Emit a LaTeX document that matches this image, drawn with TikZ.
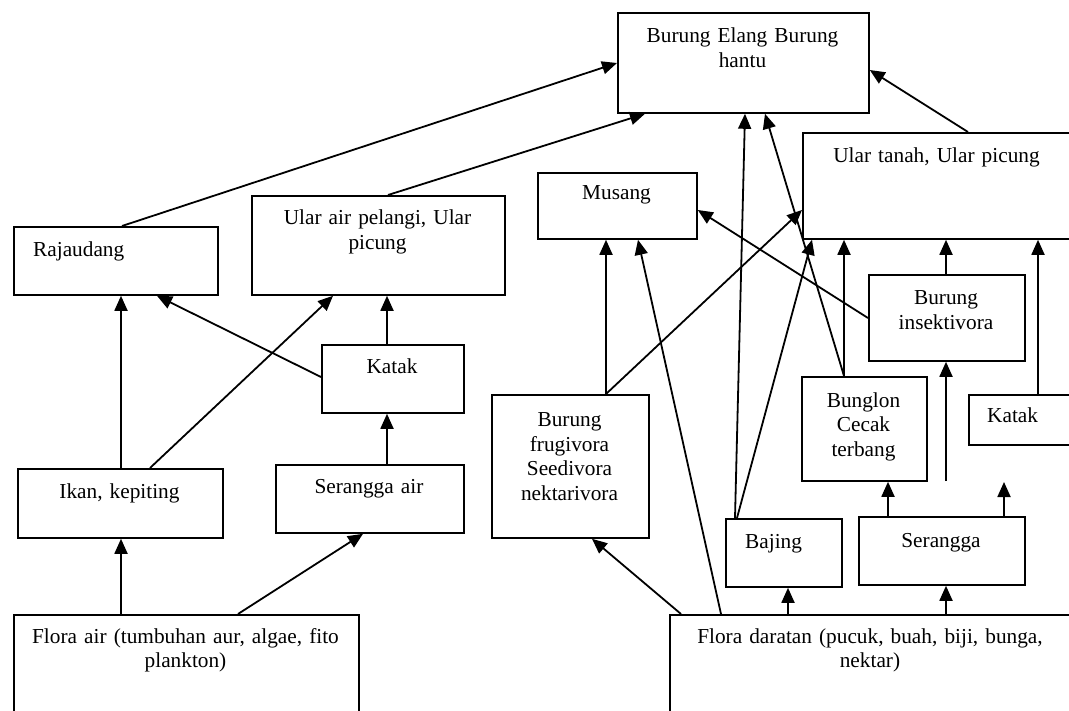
\documentclass[tikz,border=0pt]{standalone}
\usepackage{fontspec}
\setmainfont{Liberation Serif}
\usetikzlibrary{arrows.meta,calc}
\tikzset{
  box/.style={draw, line width=1.8pt, rectangle, inner sep=0pt, anchor=north west},
  lbl/.style={inner sep=0pt, align=center, text width=360pt, anchor=base},
  lblw/.style={inner sep=0pt, anchor=base west},
  conn/.style={line width=1.8pt, -{Triangle[length=15pt,width=13pt]}}
}
\begin{document}
\begin{tikzpicture}[x=1pt,y=-1pt,font=\fontsize{21.3}{24.5}\selectfont]
\useasboundingbox (0,0) rectangle (1069,711);
\clip (0,0) rectangle (1069,711);
% boxes
\node[box, minimum width=251pt, minimum height=100pt] (top) at (617,12) {};
\node[box, minimum width=280pt, minimum height=106pt] (ulart) at (802,132) {};
\node[box, minimum width=159pt, minimum height=66pt] (musang) at (537,172) {};
\node[box, minimum width=204pt, minimum height=68pt] (rajau) at (13,226) {};
\node[box, minimum width=253pt, minimum height=99pt] (ularair) at (251,195) {};
\node[box, minimum width=142pt, minimum height=68pt] (kataka) at (321,344) {};
\node[box, minimum width=205pt, minimum height=69pt] (ikan) at (17,468) {};
\node[box, minimum width=188pt, minimum height=68pt] (serair) at (275,464) {};
\node[box, minimum width=345pt, minimum height=110pt] (floraair) at (13,614) {};
\node[box, minimum width=157pt, minimum height=143pt] (frug) at (491,394) {};
\node[box, minimum width=156pt, minimum height=86pt] (insekt) at (868,274) {};
\node[box, minimum width=125pt, minimum height=104pt] (bunglon) at (801,376) {};
\node[box, minimum width=120pt, minimum height=50pt] (katakb) at (968,394) {};
\node[box, minimum width=166pt, minimum height=68pt] (serangga) at (858,516) {};
\node[box, minimum width=116pt, minimum height=68pt] (bajing) at (725,518) {};
\node[box, minimum width=420pt, minimum height=110pt] (florad) at (669,614) {};
% texts
\node[lbl] (ttop) at (742.5,43) {Burung Elang Burung\\hantu};
\node[lbl] (tulart) at (936.5,163) {Ular tanah, Ular picung};
\node[lbl] (tmusang) at (616.5,200) {Musang};
\node[lblw] (trajau) at (33,257) {Rajaudang};
\node[lbl] (tularair) at (377.5,225) {Ular air pelangi, Ular\\picung};
\node[lbl] (tkataka) at (392,374) {Katak};
\node[lbl] (tikan) at (119.5,498) {Ikan, kepiting};
\node[lbl] (tserair) at (369,493) {Serangga air};
\node[lbl] (tfloraair) at (185.5,643) {Flora air (tumbuhan aur, algae, fito\\plankton)};
\node[lbl] (tfrug) at (569.5,427) {Burung\\frugivora\\Seedivora\\nektarivora};
\node[lbl] (tinsekt) at (946,305) {Burung\\insektivora};
\node[lbl] (tbunglon) at (863.5,407) {Bunglon\\Cecak\\terbang};
\node[lblw] (tkatakb) at (987,423) {Katak};
\node[lbl] (tserangga) at (941,547) {Serangga};
\node[lblw] (tbajing) at (745,548) {Bajing};
\node[lbl] (tflorad) at (870,643) {Flora daratan (pucuk, buah, biji, bunga,\\nektar)};
% free ends
\coordinate (free1) at (1004,482);
\coordinate (free2) at (946,481);
% connectors, left part
\draw[conn] ($(rajau.north west)+(109,0)$) -- ($(top.north west)+(0,51)$);
\draw[conn] ($(ularair.north west)+(137,0)$) -- ($(top.south west)+(28,0)$);
\draw[conn] ($(kataka.north west)+(0,33)$) -- ($(rajau.south west)+(144,0)$);
\draw[conn] ($(kataka.north west)+(66,0)$) -- ($(ularair.south west)+(136,0)$);
\draw[conn] ($(ikan.north west)+(104,0)$) -- ($(rajau.south west)+(108,0)$);
\draw[conn] ($(ikan.north west)+(133,0)$) -- ($(ularair.south west)+(82,0)$);
\draw[conn] ($(serair.north west)+(112,0)$) -- ($(kataka.south west)+(66,0)$);
\draw[conn] ($(floraair.north west)+(108,0)$) -- ($(ikan.south west)+(104,0)$);
\draw[conn] ($(floraair.north west)+(225,0)$) -- ($(serair.south west)+(88,0)$);
% connectors, right part
\draw[conn] ($(ulart.north west)+(166,0)$) -- ($(top.north east)+(0,58)$);
\draw[conn] ($(bajing.north west)+(10,0)$) -- ($(top.south west)+(128,0)$);
\draw[conn] ($(bajing.north west)+(12,0)$) -- ($(ulart.south west)+(10,0)$);
\draw[conn] ($(bunglon.north west)+(43,0)$) -- ($(top.south west)+(148,0)$);
\draw[conn] ($(bunglon.north west)+(43,0)$) -- ($(ulart.south west)+(42,0)$);
\draw[conn] ($(insekt.north west)+(78,0)$) -- ($(ulart.south west)+(144,0)$);
\draw[conn] ($(insekt.north west)+(0,44)$) -- ($(musang.north east)+(0,38)$);
\draw[conn] ($(katakb.north west)+(70,0)$) -- ($(ulart.south west)+(236,0)$);
\draw[conn] ($(frug.north west)+(115,0)$) -- ($(musang.south west)+(69,0)$);
\draw[conn] ($(frug.north west)+(115,0)$) -- ($(ulart.north west)+(0,78)$);
\draw[conn] ($(florad.north west)+(12,0)$) -- ($(frug.south west)+(101,0)$);
\draw[conn] ($(florad.north west)+(52,0)$) -- ($(musang.south west)+(101,0)$);
\draw[conn] ($(florad.north west)+(119,0)$) -- ($(bajing.south west)+(63,0)$);
\draw[conn] ($(florad.north west)+(277,0)$) -- ($(serangga.south west)+(88,0)$);
\draw[conn] ($(serangga.north west)+(30,0)$) -- ($(bunglon.south west)+(87,0)$);
\draw[conn] ($(serangga.north west)+(146,0)$) -- (free1);
\draw[conn] (free2) -- ($(insekt.south west)+(78,0)$);
\end{tikzpicture}
\end{document}
